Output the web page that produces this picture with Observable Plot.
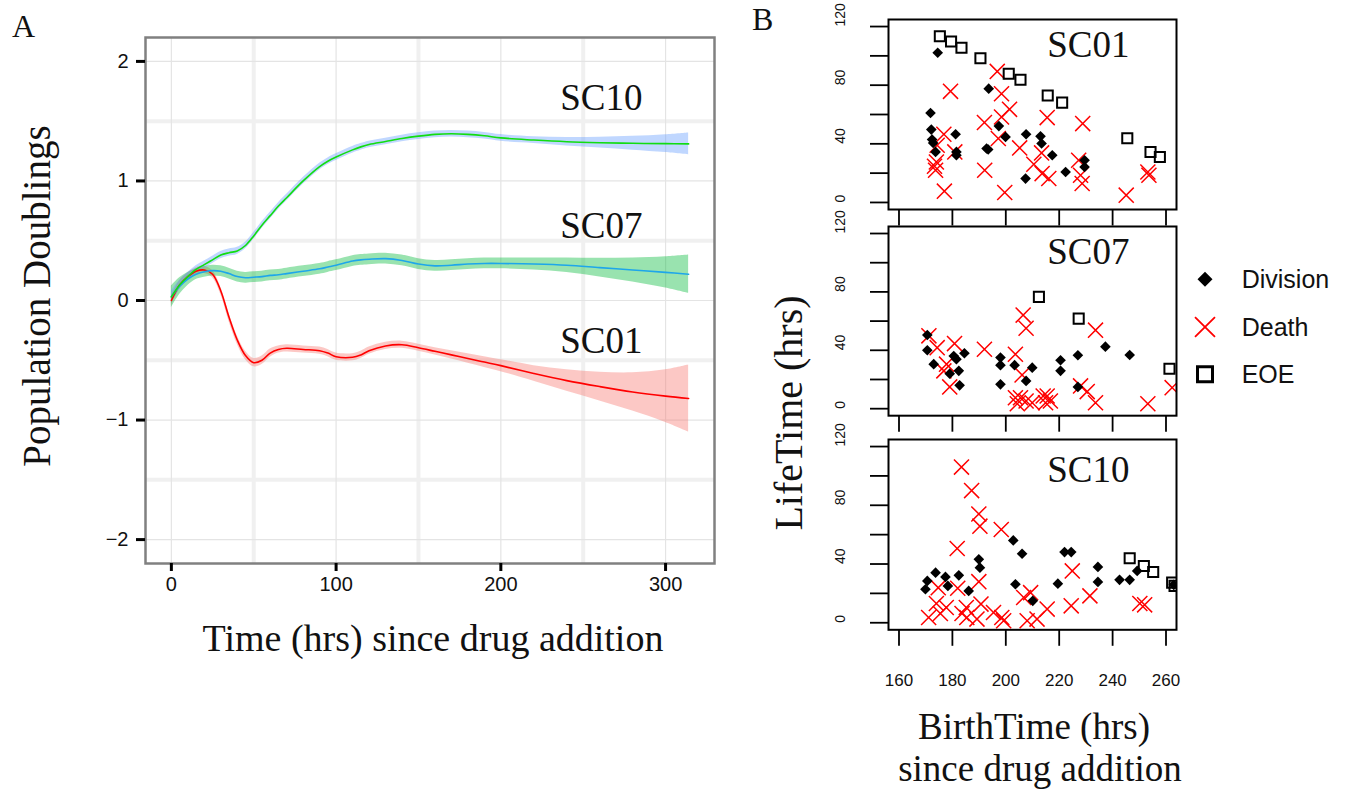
<!DOCTYPE html>
<html><head><meta charset="utf-8">
<script src="https://cdn.jsdelivr.net/npm/d3@7"></script>
<script src="https://cdn.jsdelivr.net/npm/@observablehq/plot@0.6"></script>
<style>
body{margin:0;background:#fff;}
#root{position:relative;width:1349px;height:789px;overflow:hidden;background:#fff;}
#root svg{position:absolute;overflow:visible;}
</style></head><body><div id="root"></div>
<script>
// ---------- Panel A data (smoothed population doublings) ----------
const time = [0,5,10,15,20,25,30,35,40,45,50,55,60,65,70,80,90,95,100,110,115,120,130,140,150,160,170,180,190,200,220,240,260,280,300,314];
const sc10 = [0.03,0.13,0.2,0.26,0.3,0.34,0.38,0.4,0.415,0.46,0.54,0.63,0.71,0.79,0.86,1.0,1.12,1.165,1.2,1.26,1.285,1.305,1.33,1.355,1.375,1.39,1.395,1.39,1.378,1.36,1.342,1.328,1.32,1.315,1.312,1.31];
const sc10Hi = [0.08,0.17,0.235,0.29,0.33,0.37,0.41,0.43,0.445,0.488,0.568,0.658,0.738,0.818,0.888,1.028,1.148,1.193,1.228,1.288,1.313,1.333,1.358,1.383,1.403,1.418,1.423,1.418,1.406,1.388,1.37,1.363,1.365,1.373,1.387,1.402];
const sc10Lo = [-0.02,0.09,0.165,0.23,0.27,0.31,0.35,0.37,0.385,0.432,0.512,0.602,0.682,0.762,0.832,0.972,1.092,1.137,1.172,1.232,1.257,1.277,1.302,1.327,1.347,1.362,1.367,1.362,1.35,1.332,1.314,1.293,1.275,1.257,1.237,1.218];
const sc07 = [0.03,0.12,0.18,0.22,0.24,0.25,0.245,0.225,0.2,0.19,0.195,0.2,0.21,0.215,0.225,0.245,0.265,0.28,0.295,0.33,0.34,0.345,0.35,0.335,0.305,0.29,0.295,0.305,0.31,0.31,0.305,0.295,0.275,0.255,0.235,0.22];
const sc07Hi = [0.12,0.19,0.235,0.265,0.285,0.295,0.29,0.27,0.245,0.235,0.24,0.245,0.255,0.26,0.27,0.29,0.31,0.325,0.34,0.375,0.385,0.39,0.395,0.38,0.35,0.335,0.34,0.35,0.355,0.355,0.355,0.355,0.353,0.355,0.365,0.38];
const sc07Lo = [-0.06,0.05,0.125,0.175,0.195,0.205,0.2,0.18,0.155,0.145,0.15,0.155,0.165,0.17,0.18,0.2,0.22,0.235,0.25,0.285,0.295,0.3,0.305,0.29,0.26,0.245,0.25,0.26,0.265,0.265,0.255,0.235,0.197,0.155,0.105,0.06];
const sc01 = [0.0,0.13,0.2,0.245,0.255,0.22,0.08,-0.14,-0.33,-0.46,-0.52,-0.5,-0.44,-0.41,-0.4,-0.41,-0.42,-0.44,-0.47,-0.475,-0.455,-0.42,-0.38,-0.37,-0.395,-0.425,-0.455,-0.485,-0.515,-0.545,-0.61,-0.67,-0.72,-0.765,-0.8,-0.82];
const sc01Hi = [0.04,0.165,0.23,0.275,0.285,0.25,0.11,-0.105,-0.295,-0.425,-0.485,-0.465,-0.405,-0.38,-0.37,-0.38,-0.39,-0.41,-0.44,-0.445,-0.425,-0.39,-0.35,-0.34,-0.365,-0.395,-0.42,-0.445,-0.47,-0.495,-0.545,-0.58,-0.6,-0.605,-0.58,-0.54];
const sc01Lo = [-0.04,0.095,0.17,0.215,0.225,0.19,0.05,-0.175,-0.365,-0.495,-0.555,-0.535,-0.475,-0.44,-0.43,-0.44,-0.45,-0.47,-0.5,-0.505,-0.485,-0.45,-0.41,-0.4,-0.425,-0.455,-0.49,-0.525,-0.56,-0.595,-0.675,-0.76,-0.84,-0.925,-1.02,-1.1];
const xTicksA = [0,100,200,300];
const xMinorA = [50,150,250];
const yTicksA = [-2,-1,0,1,2];
const yMinorA = [-1.5,-0.5,0.5,1.5];
const seriesLabelsA = [{name:"SC10",x:236,y:1.59},{name:"SC07",x:236,y:0.52},{name:"SC01",x:236,y:-0.44}];

// ---------- Panel B data: [BirthTime, LifeTime] ----------
const sc01Division = [[174.5,102.1],[171.8,61.0],[172.1,49.7],[172.4,42.9],[172.8,40.6],[173.7,34.5],[181.2,46.5],[181.5,34.5],[181.5,32.2],[193.6,77.6],[192.8,36.8],[193.4,36.1],[197.4,52.1],[199.9,44.7],[207.6,46.5],[207.4,16.3],[213.0,45.1],[213.4,40.2],[217.4,32.2],[222.4,20.8],[229.5,28.8],[229.5,24.2]];
const sc01Death = [[196.8,89.4],[179.3,75.8],[198.4,74.2],[201.4,63.5],[198.4,58.3],[215.5,57.9],[192.0,54.5],[228.8,53.8],[176.8,46.5],[197.2,43.6],[174.3,39.0],[205.2,37.2],[180.9,34.5],[213.4,33.8],[174.0,27.6],[173.3,24.7],[210.5,26.1],[173.7,22.0],[192.1,22.0],[213.6,19.7],[216.1,16.3],[228.0,18.6],[228.6,12.9],[227.3,28.8],[177.0,7.7],[199.6,6.8],[245.1,5.0],[253.2,20.8],[253.6,18.6]];
const sc01EOE = [[175.3,113.4],[179.5,109.8],[183.4,105.5],[190.5,98.4],[201.1,87.8],[205.5,83.7],[215.7,73.0],[221.1,68.1],[245.5,43.8],[254.2,34.4],[257.7,31.0]];

const sc07Division = [[170.6,50.5],[170.6,40.0],[173.0,30.5],[179.0,24.0],[180.5,36.1],[181.5,33.9],[182.4,25.9],[182.7,16.0],[184.5,38.0],[198.0,35.0],[198.0,29.8],[198.0,16.7],[203.3,29.8],[207.6,19.0],[209.9,28.1],[220.5,33.2],[220.5,25.9],[227.0,36.6],[227.0,14.9],[237.3,42.5],[246.4,36.8]];
const sc07Death = [[171.2,49.9],[174.3,41.8],[180.8,44.6],[177.8,30.5],[176.8,25.9],[179.0,14.9],[192.0,40.7],[203.6,37.3],[206.5,64.1],[207.6,55.1],[206.1,23.1],[203.6,7.5],[205.5,7.5],[204.3,3.4],[207.6,5.3],[209.9,4.1],[214.0,8.7],[215.5,8.7],[214.9,4.1],[216.7,5.3],[228.0,15.6],[230.5,11.7],[233.6,53.8],[233.6,4.1],[253.2,3.4],[262.3,14.4]];
const sc07EOE = [[212.4,76.6],[227.3,61.7],[261.3,27.4]];

const sc10Division = [[169.9,22.8],[170.6,28.5],[173.7,34.1],[177.4,31.2],[178.3,25.1],[182.4,32.3],[186.1,21.7],[189.9,43.2],[190.3,37.5],[202.8,56.1],[206.1,47.0],[203.6,26.2],[210.1,14.9],[219.5,26.6],[222.0,48.1],[224.5,48.1],[234.5,38.0],[234.5,27.8],[242.6,29.2],[246.4,29.2],[249.2,35.3],[262.9,25.8]];
const sc10Death = [[183.4,106.0],[187.2,90.0],[189.9,74.1],[190.3,65.8],[198.3,63.5],[181.8,50.6],[189.9,28.0],[174.7,23.9],[182.0,23.5],[174.0,13.1],[171.1,3.6],[175.5,6.3],[177.7,10.4],[183.6,6.3],[185.2,10.4],[185.4,3.6],[189.2,2.5],[190.7,12.7],[195.4,7.0],[198.5,3.6],[199.2,1.4],[206.7,17.2],[209.3,20.5],[208.0,1.4],[211.7,2.5],[215.5,9.3],[224.9,35.3],[224.5,11.5],[231.5,18.3],[250.2,13.1],[252.0,12.2]];
const sc10EOE = [[246.4,43.9],[251.7,38.6],[255.2,34.6],[262.3,27.3],[263.2,25.1]];

const xTicksB = [160,180,200,220,240,260];
const yTicksB = [0,20,40,60,80,100,120];
const yLabelsB = [0,40,80,120];
const legendItems = ["Division","Death","EOE"];

const root = document.getElementById("root");
const SERIF = "Liberation Serif, Times New Roman, serif";
const SANS = "Liberation Sans, Arial, Helvetica, sans-serif";
const minus = d => d < 0 ? "\u2212" + Math.abs(d) : String(d);

// ---------- Panel A ----------
const rowsFor = (v, lo, hi) => time.map((t, i) => ({t, v: v[i], lo: lo[i], hi: hi[i]}));
const r10 = rowsFor(sc10, sc10Lo, sc10Hi);
const r07 = rowsFor(sc07, sc07Lo, sc07Hi);
const r01 = rowsFor(sc01, sc01Lo, sc01Hi);
const curve = "catmull-rom";
const plotA = Plot.plot({
  width: 730, height: 600,
  marginLeft: 145, marginRight: 16, marginTop: 37, marginBottom: 37,
  x: {domain: [-15.7, 329.7]},
  y: {domain: [-2.2, 2.2]},
  style: {background: "transparent", fontFamily: SANS, overflow: "visible"},
  marks: [
    Plot.ruleX(xMinorA, {stroke: "#f0f0f0", strokeWidth: 4}),
    Plot.ruleY(yMinorA, {stroke: "#f0f0f0", strokeWidth: 4}),
    Plot.ruleX(xTicksA, {stroke: "#e4e4e4", strokeWidth: 1.2}),
    Plot.ruleY(yTicksA, {stroke: "#e4e4e4", strokeWidth: 1.2}),
    Plot.areaY(r01, {x: "t", y1: "lo", y2: "hi", fill: "#F8766D", fillOpacity: 0.4, curve}),
    Plot.areaY(r07, {x: "t", y1: "lo", y2: "hi", fill: "#00BA38", fillOpacity: 0.4, curve}),
    Plot.areaY(r10, {x: "t", y1: "lo", y2: "hi", fill: "#619CFF", fillOpacity: 0.4, curve}),
    Plot.line(r01, {x: "t", y: "v", stroke: "#ff0000", strokeWidth: 1.6, curve}),
    Plot.line(r07, {x: "t", y: "v", stroke: "#1ea6ea", strokeWidth: 1.6, curve}),
    Plot.line(r10, {x: "t", y: "v", stroke: "#11dd11", strokeWidth: 1.6, curve}),
    Plot.text(seriesLabelsA, {x: "x", y: "y", text: "name", textAnchor: "start", lineAnchor: "bottom", fontSize: 37, fontFamily: SERIF, fill: "#111"}),
    Plot.frame({stroke: "#808080", strokeWidth: 2.5}),
    Plot.axisX({ticks: xTicksA, tickSize: 8, tickPadding: 5, fontSize: 20, strokeWidth: 3, stroke: "#000", fill: "#111", label: null, tickFormat: minus}),
    Plot.axisY({ticks: yTicksA, tickSize: 9, tickPadding: 8, fontSize: 20, strokeWidth: 3, stroke: "#000", fill: "#111", label: null, tickFormat: minus})
  ]
});
plotA.style.left = "0px"; plotA.style.top = "0px";
root.appendChild(plotA);

// ---------- Panel B ----------
function panelB(name, labelY, div, death, eoe, frameTop, frameBottom, showLabels) {
  const mb = showLabels ? 75 : 20;
  const p = Plot.plot({
    width: 366, height: (frameBottom - frameTop) + 10 + mb,
    marginLeft: 68, marginRight: 10, marginTop: 10, marginBottom: mb,
    x: {domain: [156.07, 263.93]},
    y: {domain: [-4.8, 124.8]},
    style: {background: "transparent", fontFamily: SANS, overflow: "visible"},
    marks: [
      Plot.dot(death, {x: d => d[0], y: d => d[1], symbol: "times", r: 6.9, stroke: "#ff0000", strokeWidth: 1.5, fill: "none", clip: true}),
      Plot.dot(div, {x: d => d[0], y: d => d[1], symbol: "diamond2", r: 4.8, fill: "#000", stroke: "none", clip: true}),
      Plot.dot(eoe, {x: d => d[0], y: d => d[1], symbol: "square", r: 5.7, stroke: "#000", strokeWidth: 2, fill: "none", clip: true}),
      Plot.text([{name, x: 215.5, y: labelY}], {x: "x", y: "y", text: "name", textAnchor: "start", lineAnchor: "bottom", fontSize: 37, fontFamily: SERIF, fill: "#111"}),
      Plot.frame({stroke: "#000", strokeWidth: 2}),
      Plot.axisX({ticks: xTicksB, tickSize: 16.5, tickPadding: 28, fontSize: 17, strokeWidth: 1.8, stroke: "#000", fill: "#111", label: null, tickFormat: showLabels ? d => String(d) : () => ""}),
      Plot.axisY({ticks: yTicksB, tickSize: 18, strokeWidth: 1.8, stroke: "#000", label: null, tickFormat: () => ""}),
      Plot.text(yLabelsB, {y: d => d, text: d => String(d), frameAnchor: "left", dx: -48, rotate: -90, fontSize: 14, fill: "#111"})
    ]
  });
  p.style.left = "820px"; p.style.top = (frameTop - 10) + "px";
  root.appendChild(p);
}
panelB("SC01", 99, sc01Division, sc01Death, sc01EOE, 19.3, 209.3, false);
panelB("SC07", 99, sc07Division, sc07Death, sc07EOE, 225.5, 414.7, false);
panelB("SC10", 96, sc10Division, sc10Death, sc10EOE, 439, 629.3, true);

// ---------- Titles, axis titles and legend ----------
const ov = d3.select(root).append("svg").attr("width", 1349).attr("height", 789).style("left", "0px").style("top", "0px");
const txt = (s, x, y, size, fam, anchor = "start", rot = 0) => {
  const t = ov.append("text").text(s).attr("font-size", size).attr("font-family", fam).attr("fill", "#111").attr("text-anchor", anchor);
  if (rot) t.attr("transform", `translate(${x},${y}) rotate(${rot})`); else t.attr("x", x).attr("y", y);
  return t;
};
txt("A", 12, 37, 32, SERIF);
txt("B", 752, 30, 32, SERIF);
txt("Population Doublings", 50, 296, 39, SERIF, "middle", -90);
txt("Time (hrs) since drug addition", 433, 651, 38, SERIF, "middle");
txt("LifeTime (hrs)", 802, 413, 40, SERIF, "middle", -90);
txt("BirthTime (hrs)", 1034, 739, 37, SERIF, "middle");
txt("since drug addition", 1040, 781, 37, SERIF, "middle");

const legendSym = [
  {shape: d3.symbolDiamond2, size: 144, fill: "#000", stroke: "none", sw: 0},
  {shape: d3.symbolTimes, size: 262, fill: "none", stroke: "#ff0000", sw: 1.8},
  {shape: d3.symbolSquare, size: 225, fill: "none", stroke: "#000", sw: 3}
];
const legendBase = [288.3, 336, 383.3];
legendItems.forEach((name, i) => {
  const s = legendSym[i];
  ov.append("path").attr("d", d3.symbol(s.shape, s.size)()).attr("transform", `translate(1205,${legendBase[i] - 9})`)
    .attr("fill", s.fill).attr("stroke", s.stroke).attr("stroke-width", s.sw);
  txt(name, 1241.7, legendBase[i], 25, SANS);
});
</script></body></html>
